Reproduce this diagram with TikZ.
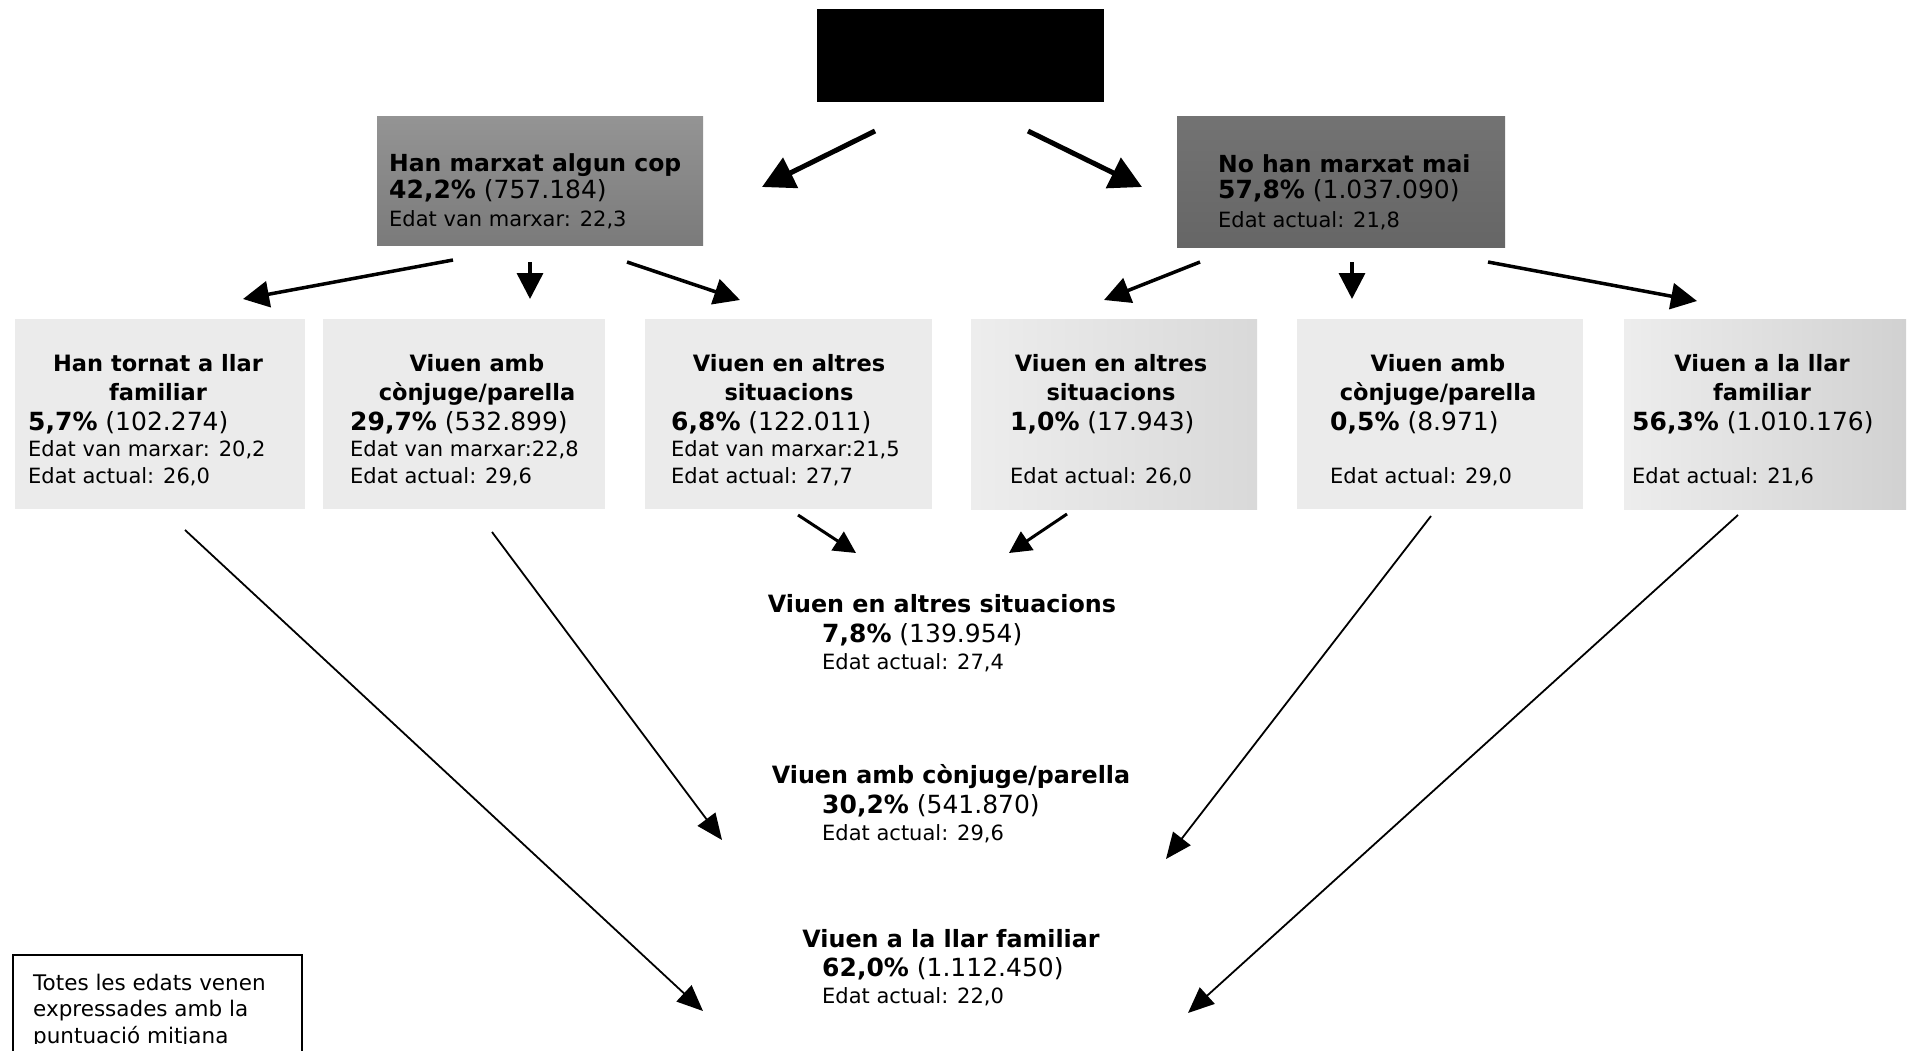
\documentclass[tikz,border=0pt]{standalone}
\usepackage{fontspec}
\setmainfont{DejaVu Sans}
\usetikzlibrary{arrows.meta}
\tikzset{
  bigarrow/.style={line width=5pt,-{Triangle[length=32pt,width=33pt]}},
  midarrow/.style={line width=3.5pt,-{Triangle[length=26pt,width=26pt]}},
  smallarrow/.style={line width=3pt,-{Triangle[length=22pt,width=22pt]}},
  thinarrow/.style={line width=1.8pt,-{Triangle[length=26pt,width=22pt]}},
  box/.style={anchor=north west,inner sep=0pt,outer sep=0pt,draw=none},
  lightbox/.style={box,fill=black!8},
  ttl/.style={anchor=base,inner sep=0pt,font=\fontsize{22.5}{26}\selectfont\bfseries},
  btl/.style={anchor=base,inner sep=0pt,font=\fontsize{23.8}{28}\selectfont\bfseries},
  num/.style={anchor=base west,inner sep=0pt,font=\fontsize{25}{29}\selectfont},
  edat/.style={anchor=base west,inner sep=0pt,font=\fontsize{21}{25}\selectfont},
  gtl/.style={anchor=base west,inner sep=0pt,font=\fontsize{23.5}{27}\selectfont\bfseries},
  note/.style={anchor=base west,inner sep=0pt,font=\fontsize{21.5}{25}\selectfont},
}
\begin{document}
\begin{tikzpicture}[x=1pt,y=-1pt]
\useasboundingbox (0,0) rectangle (1910,1051);
\clip (0,0) rectangle (1910,1051);

% top black box
\node[box,fill=black,minimum width=287pt,minimum height=93pt] (top) at (817,9) {};

% gray boxes
\node[box,top color=black!42,bottom color=black!52,minimum width=326pt,minimum height=128pt] (left) at (377,117) {};
\node[box,top color=black!55,middle color=black!44,bottom color=black!60,minimum width=328pt,minimum height=130pt] (right) at (1177,117) {};

\node[gtl] (l1) at (389,172) {Han marxat algun cop};
\node[num] (l2) at (389,198) {\textbf{42,2\%} (757.184)};
\node[edat] (l3) at (389,226) {Edat van marxar: 22,3};

\node[gtl] (r1) at (1218,173) {No han marxat mai};
\node[num] (r2) at (1218,199) {\textbf{57,8\%} (1.037.090)};
\node[edat] (r3) at (1218,227) {Edat actual: 21,8};

% second row boxes
\node[lightbox,minimum width=290pt,minimum height=190pt] (b1) at (15,319) {};
\node[lightbox,minimum width=282pt,minimum height=190pt] (b2) at (323,319) {};
\node[lightbox,minimum width=287pt,minimum height=190pt] (b3) at (645,319) {};
\node[box,left color=black!7,right color=black!15,minimum width=286pt,minimum height=190pt] (b4) at (971,319) {};
\node[lightbox,minimum width=286pt,minimum height=190pt] (b5) at (1297,319) {};
\node[box,left color=black!7,right color=black!18,minimum width=282pt,minimum height=190pt] (b6) at (1624,319) {};

% box 1
\node[ttl] (b1t1) at (158,371) {Han tornat a llar};
\node[ttl] (b1t2) at (158,400) {familiar};
\node[num] (b1n) at (28,430) {\textbf{5,7\%} (102.274)};
\node[edat] (b1e1) at (28,456) {Edat van marxar: 20,2};
\node[edat] (b1e2) at (28,483) {Edat actual: 26,0};
% box 2
\node[ttl] (b2t1) at (477,371) {Viuen amb};
\node[ttl] (b2t2) at (477,400) {cònjuge/parella};
\node[num] (b2n) at (350,430) {\textbf{29,7\%} (532.899)};
\node[edat] (b2e1) at (350,456) {Edat van marxar:22,8};
\node[edat] (b2e2) at (350,483) {Edat actual: 29,6};
% box 3
\node[ttl] (b3t1) at (789,371) {Viuen en altres};
\node[ttl] (b3t2) at (789,400) {situacions};
\node[num] (b3n) at (671,430) {\textbf{6,8\%} (122.011)};
\node[edat] (b3e1) at (671,456) {Edat van marxar:21,5};
\node[edat] (b3e2) at (671,483) {Edat actual: 27,7};
% box 4
\node[ttl] (b4t1) at (1111,371) {Viuen en altres};
\node[ttl] (b4t2) at (1111,400) {situacions};
\node[num] (b4n) at (1010,430) {\textbf{1,0\%} (17.943)};
\node[edat] (b4e2) at (1010,483) {Edat actual: 26,0};
% box 5
\node[ttl] (b5t1) at (1438,371) {Viuen amb};
\node[ttl] (b5t2) at (1438,400) {cònjuge/parella};
\node[num] (b5n) at (1330,430) {\textbf{0,5\%} (8.971)};
\node[edat] (b5e2) at (1330,483) {Edat actual: 29,0};
% box 6
\node[ttl] (b6t1) at (1762,371) {Viuen a la llar};
\node[ttl] (b6t2) at (1762,400) {familiar};
\node[num] (b6n) at (1632,430) {\textbf{56,3\%} (1.010.176)};
\node[edat] (b6e2) at (1632,483) {Edat actual: 21,6};

% bottom centre results
\node[btl] (c1t) at (942,612) {Viuen en altres situacions};
\node[num] (c1n) at (822,642) {\textbf{7,8\%} (139.954)};
\node[edat] (c1e) at (822,669) {Edat actual: 27,4};
\node[btl] (c2t) at (951,783) {Viuen amb cònjuge/parella};
\node[num] (c2n) at (822,813) {\textbf{30,2\%} (541.870)};
\node[edat] (c2e) at (822,840) {Edat actual: 29,6};
\node[btl] (c3t) at (951,947) {Viuen a la llar familiar};
\node[num] (c3n) at (822,976) {\textbf{62,0\%} (1.112.450)};
\node[edat] (c3e) at (822,1003) {Edat actual: 22,0};

% footnote
\node[box,draw=black,line width=1.6pt,minimum width=289pt,minimum height=140pt] (notebox) at (13,955) {};
\begin{scope}
\clip (0,0) rectangle (1910,1043);
\node[note] (n1) at (33,990) {Totes les edats venen};
\node[note] (n2) at (33,1016) {expressades amb la};
\node[note] (n3) at (33,1043) {puntuació mitjana};
\end{scope}

% arrow end points
\coordinate (a1s) at (875,131); \coordinate (a1e) at (762,187);
\coordinate (a2s) at (1028,131); \coordinate (a2e) at (1142,187);
\coordinate (l1s) at (453,260); \coordinate (l1e) at (243,299);
\coordinate (l2s) at (530,262); \coordinate (l2e) at (530,299);
\coordinate (l3s) at (627,262); \coordinate (l3e) at (740,300);
\coordinate (r1s) at (1200,262); \coordinate (r1e) at (1104,300);
\coordinate (r2s) at (1352,262); \coordinate (r2e) at (1352,299);
\coordinate (r3s) at (1488,262); \coordinate (r3e) at (1697,301);
\coordinate (m1s) at (798,515); \coordinate (m1e) at (856,553);
\coordinate (m2s) at (1067,514); \coordinate (m2e) at (1009,553);
\coordinate (d1s) at (185,530); \coordinate (d1e) at (703,1011);
\coordinate (d2s) at (492,532); \coordinate (d2e) at (722,840);
\coordinate (d3s) at (1431,516); \coordinate (d3e) at (1166,859);
\coordinate (d4s) at (1738,515); \coordinate (d4e) at (1188,1013);

\draw[bigarrow] (a1s) -- (a1e);
\draw[bigarrow] (a2s) -- (a2e);
\draw[midarrow] (l1s) -- (l1e);
\draw[midarrow] (l2s) -- (l2e);
\draw[midarrow] (l3s) -- (l3e);
\draw[midarrow] (r1s) -- (r1e);
\draw[midarrow] (r2s) -- (r2e);
\draw[midarrow] (r3s) -- (r3e);
\draw[smallarrow] (m1s) -- (m1e);
\draw[smallarrow] (m2s) -- (m2e);
\draw[thinarrow] (d1s) -- (d1e);
\draw[thinarrow] (d2s) -- (d2e);
\draw[thinarrow] (d3s) -- (d3e);
\draw[thinarrow] (d4s) -- (d4e);
\end{tikzpicture}
\end{document}
